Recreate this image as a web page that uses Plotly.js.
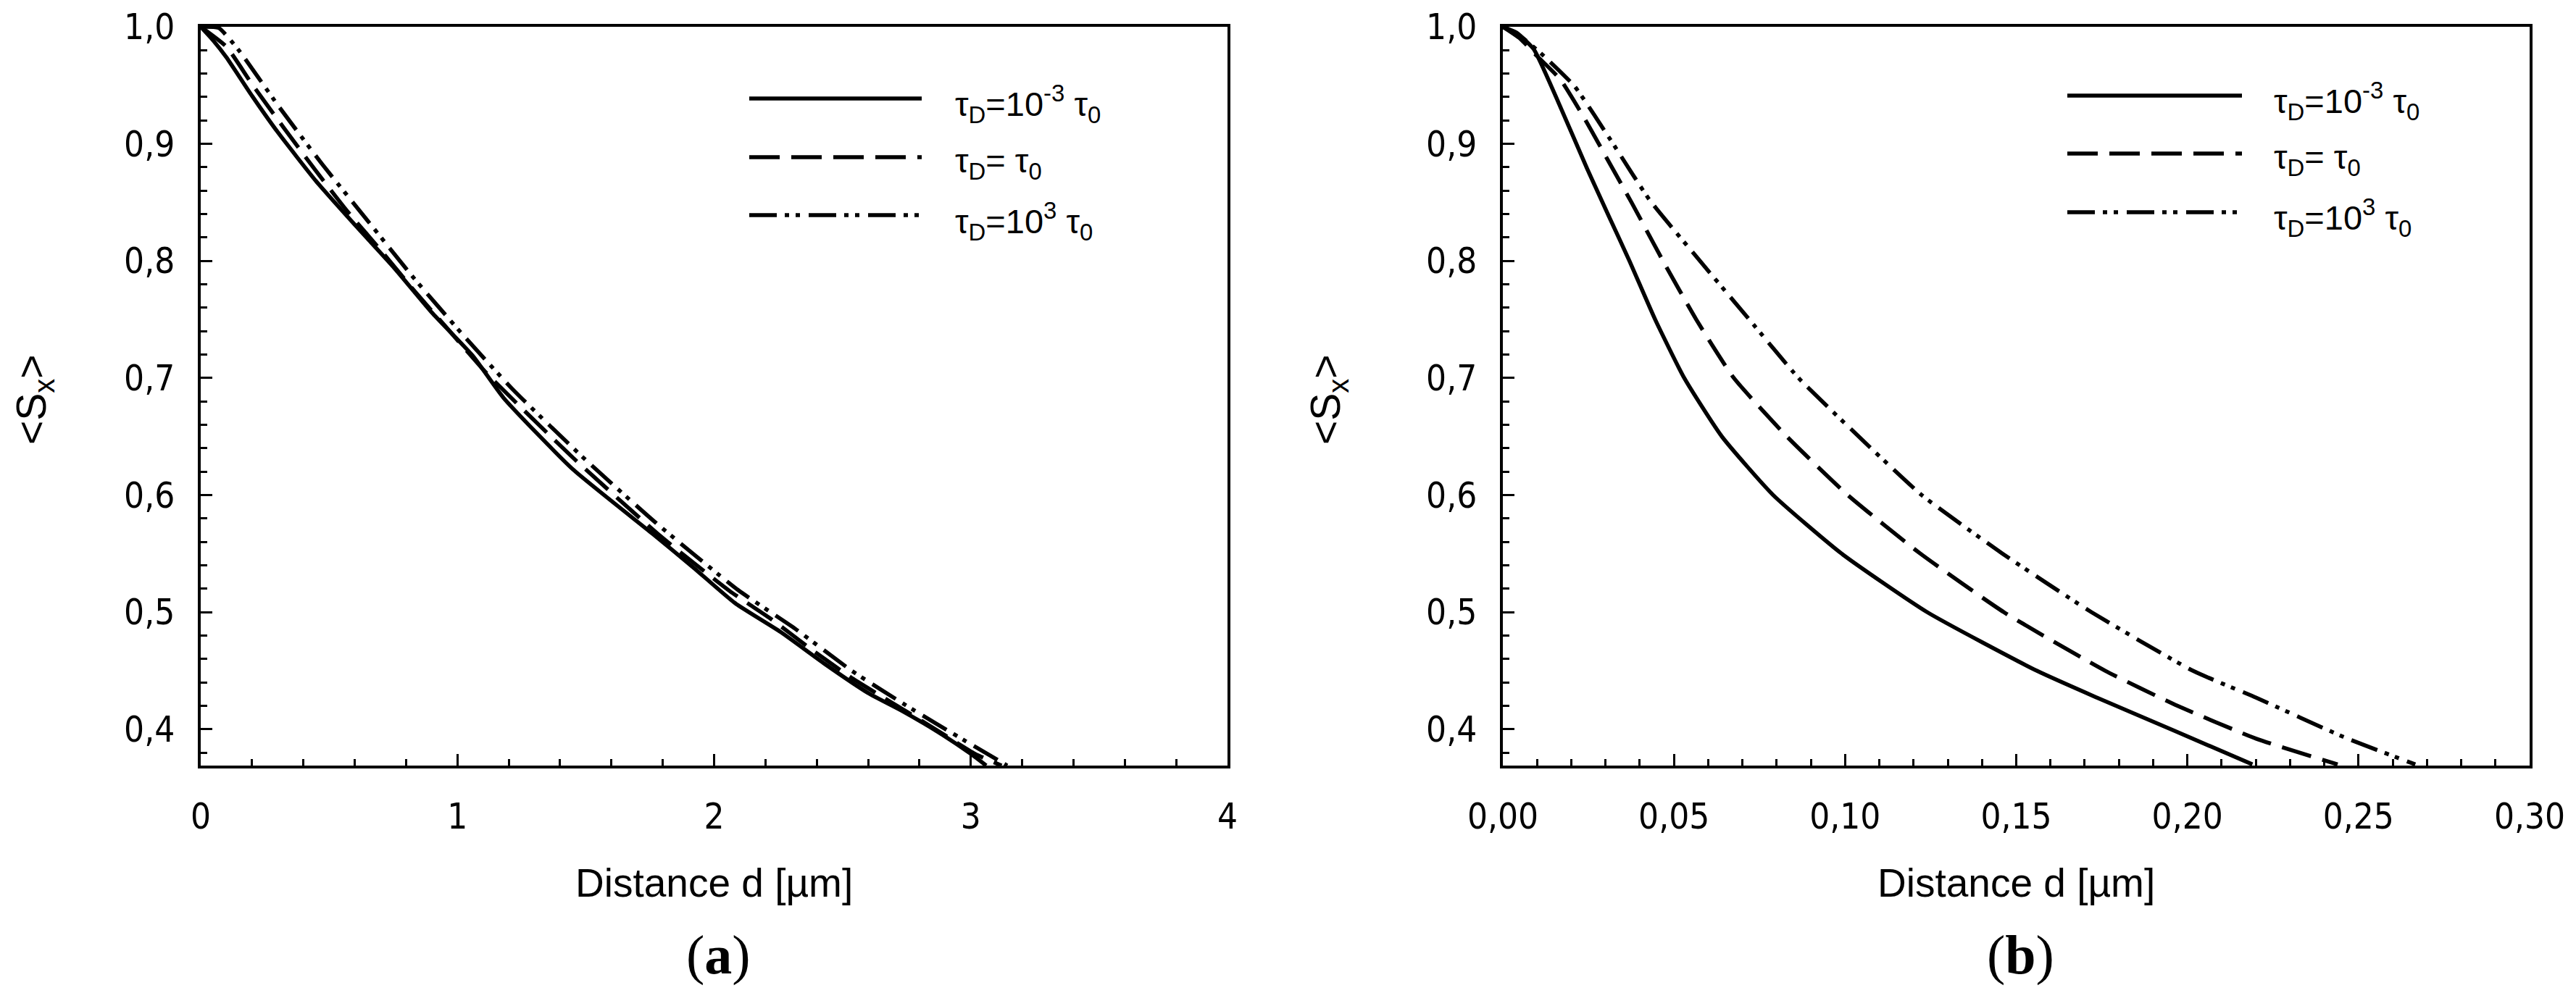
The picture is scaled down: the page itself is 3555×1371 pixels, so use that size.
<!DOCTYPE html>
<html>
<head>
<meta charset="utf-8">
<script src="https://cdn.plot.ly/plotly-3.0.1.min.js"></script>
<style>html,body{margin:0;padding:0;background:#fff;} #chart{width:3555px;height:1371px;}</style>
</head>
<body>
<div id="chart"></div>
<script>
// ---------- Data ----------
// Panel (a): distance d [um] vs <Sx>
const aSolidX = [0, 0.05, 0.1, 0.2, 0.3, 0.45, 0.6, 0.75, 0.9, 1.06, 1.18, 1.45, 1.76, 1.92, 2.08, 2.26, 2.43, 2.6, 2.73, 2.87, 3.0, 3.06];
const aSolidY = [1.0, 0.988, 0.974, 0.941, 0.91, 0.868, 0.831, 0.795, 0.756, 0.719, 0.683, 0.622, 0.567, 0.538, 0.508, 0.483, 0.456, 0.431, 0.416, 0.398, 0.379, 0.369];
const aDashX = [0, 0.1, 0.2, 0.326, 0.445, 0.569, 0.702, 0.834, 0.974, 1.114, 1.45, 1.791, 2.061, 2.223, 2.38, 2.542, 2.698, 2.855, 3.017, 3.12];
const aDashY = [1.0, 0.983, 0.951, 0.913, 0.878, 0.843, 0.809, 0.774, 0.739, 0.704, 0.632, 0.565, 0.518, 0.494, 0.468, 0.443, 0.422, 0.401, 0.379, 0.369];
const aDotX = [0, 0.07, 0.148, 0.304, 0.472, 0.648, 0.828, 1.017, 1.217, 1.5, 1.775, 2.093, 2.315, 2.536, 2.758, 2.979, 3.142];
const aDotY = [1.0, 0.999, 0.980, 0.932, 0.883, 0.835, 0.786, 0.738, 0.690, 0.630, 0.576, 0.519, 0.486, 0.450, 0.419, 0.390, 0.369];

// Panel (b)
const bSolidX = [0, 0.004, 0.009, 0.016, 0.0246, 0.031, 0.037, 0.0445, 0.053, 0.064, 0.079, 0.099, 0.124, 0.156, 0.1736, 0.196, 0.219];
const bSolidY = [1.0, 0.995, 0.981, 0.937, 0.879, 0.838, 0.80, 0.75, 0.70, 0.65, 0.60, 0.55, 0.50, 0.45, 0.427, 0.399, 0.370];
const bDashX = [0, 0.005, 0.010, 0.0168, 0.0242, 0.0309, 0.0376, 0.0468, 0.0565, 0.0675, 0.083, 0.1008, 0.122, 0.1464, 0.176, 0.1964, 0.2201, 0.2439];
const bDashY = [1.0, 0.99, 0.975, 0.955, 0.920, 0.885, 0.850, 0.80, 0.75, 0.70, 0.65, 0.60, 0.55, 0.50, 0.45, 0.421, 0.392, 0.370];
const bDotX = [0, 0.006, 0.012, 0.021, 0.032, 0.0429, 0.0576, 0.072, 0.0864, 0.104, 0.1224, 0.146, 0.172, 0.2016, 0.2201, 0.246, 0.2666];
const bDotY = [1.0, 0.99, 0.975, 0.949, 0.901, 0.852, 0.80, 0.75, 0.70, 0.65, 0.60, 0.55, 0.50, 0.45, 0.427, 0.393, 0.370];

const seriesNames = ['τ<sub>D</sub>=10<sup>-3</sup> τ<sub>0</sub>', 'τ<sub>D</sub>= τ<sub>0</sub>', 'τ<sub>D</sub>=10<sup>3</sup> τ<sub>0</sub>'];
const xTitle = 'Distance d [µm]';
const yTitle = '&lt;S<sub>x</sub>&gt;';
const captions = ['(<b>a</b>)', '(<b>b</b>)'];

// ---------- Styling ----------
const W = 3555, H = 1371;
const px = v => v / W;            // pixel -> paper x
const py = v => 1 - v / H;        // pixel -> paper y
const dashes = ['solid', '42px,16px', '38px,11px,6px,9px,6px,12px'];
const LW = 5.5;
const tickFont = {family: '"Liberation Sans Narrow", "Arial Narrow", "DejaVu Sans Condensed", sans-serif', size: 49, color: '#000'};
const labFont = {family: '"Liberation Sans", Arial, sans-serif', size: 55, color: '#000'};
const ylabFont = {family: '"Liberation Sans", Arial, sans-serif', size: 57, color: '#000'};
const legFont = {family: '"Liberation Sans", Arial, sans-serif', size: 47, color: '#000'};
const capFont = {family: '"Liberation Serif", "DejaVu Serif", serif', size: 76, color: '#000'};

function line(x, y, i, xa, ya) {
  return {x: x, y: y, type: 'scatter', mode: 'lines', xaxis: xa, yaxis: ya,
          line: {color: '#000', width: LW, dash: dashes[i], shape: 'spline', smoothing: 0.5},
          showlegend: false, hoverinfo: 'skip'};
}
const data = [
  line(aSolidX, aSolidY, 0, 'x', 'y'),
  line(aDashX, aDashY, 1, 'x', 'y'),
  line(aDotX, aDotY, 2, 'x', 'y'),
  line(bSolidX, bSolidY, 0, 'x2', 'y2'),
  line(bDashX, bDashY, 1, 'x2', 'y2'),
  line(bDotX, bDotY, 2, 'x2', 'y2')
];

const plotTop = 37, plotBot = 1057;
const panels = [{l: 277, r: 1694}, {l: 2074, r: 3491}];

function xaxis(p, range, dtick, fmt, minorD) {
  return {domain: [px(p.l), px(p.r)], range: range, dtick: dtick, tick0: 0, tickformat: fmt,
          ticks: 'inside', ticklen: 16, tickwidth: 3, tickcolor: '#000',
          minor: {dtick: minorD, tick0: 0, ticks: 'inside', ticklen: 9, tickwidth: 3, tickcolor: '#000'},
          showline: true, linewidth: 4, linecolor: '#000', mirror: true, showgrid: false, zeroline: false,
          tickfont: tickFont, ticklabelstandoff: 24, fixedrange: true};
}
function yaxis(anchor) {
  return {domain: [py(plotBot), py(plotTop)], range: [0.369, 1.0], dtick: 0.1, tick0: 0, tickformat: '.1f',
          anchor: anchor,
          ticks: 'inside', ticklen: 16, tickwidth: 3, tickcolor: '#000',
          minor: {dtick: 0.02, tick0: 0, ticks: 'inside', ticklen: 9, tickwidth: 3, tickcolor: '#000'},
          showline: true, linewidth: 4, linecolor: '#000', mirror: true, showgrid: false, zeroline: false,
          tickfont: tickFont, ticklabelstandoff: 22, fixedrange: true};
}

const legendRows = [[136, 217, 297], [132, 212, 293]];
const legendLine = [[1034, 1272], [2853, 3094]];
const legendText = [1316, 3136];
const yTitleX = [47, 1833];

const shapes = [], annotations = [];
for (let k = 0; k < 2; k++) {
  for (let i = 0; i < 3; i++) {
    shapes.push({type: 'line', xref: 'paper', yref: 'paper',
                 x0: px(legendLine[k][0]), x1: px(legendLine[k][1]),
                 y0: py(legendRows[k][i]), y1: py(legendRows[k][i]),
                 line: {color: '#000', width: 5.5, dash: dashes[i]}});
    annotations.push({xref: 'paper', yref: 'paper', x: px(legendText[k]), y: py(legendRows[k][i] + 8),
                      xanchor: 'left', yanchor: 'middle', text: seriesNames[i], showarrow: false, font: legFont});
  }
  const cx = (panels[k].l + panels[k].r) / 2;
  annotations.push({xref: 'paper', yref: 'paper', x: px(cx), y: py(1219), xanchor: 'center', yanchor: 'middle',
                    text: xTitle, showarrow: false, font: labFont});
  annotations.push({xref: 'paper', yref: 'paper', x: px(yTitleX[k]), y: py(552), xanchor: 'center', yanchor: 'middle',
                    text: yTitle, textangle: -90, showarrow: false, font: ylabFont});
  annotations.push({xref: 'paper', yref: 'paper', x: px(cx + 6), y: py(1318), xanchor: 'center', yanchor: 'middle',
                    text: captions[k], showarrow: false, font: capFont});
}

const layout = {
  width: W, height: H, margin: {l: 0, r: 0, t: 0, b: 0, pad: 0},
  paper_bgcolor: '#fff', plot_bgcolor: '#fff', separators: ',.', showlegend: false,
  xaxis: xaxis(panels[0], [0, 4], 1, '', 0.2),
  yaxis: yaxis('x'),
  xaxis2: Object.assign(xaxis(panels[1], [0, 0.30], 0.05, '.2f', 0.01), {anchor: 'y2'}),
  yaxis2: yaxis('x2'),
  shapes: shapes, annotations: annotations
};
layout.xaxis.anchor = 'y';

Plotly.newPlot('chart', data, layout, {staticPlot: true, displayModeBar: false});
</script>
</body>
</html>
